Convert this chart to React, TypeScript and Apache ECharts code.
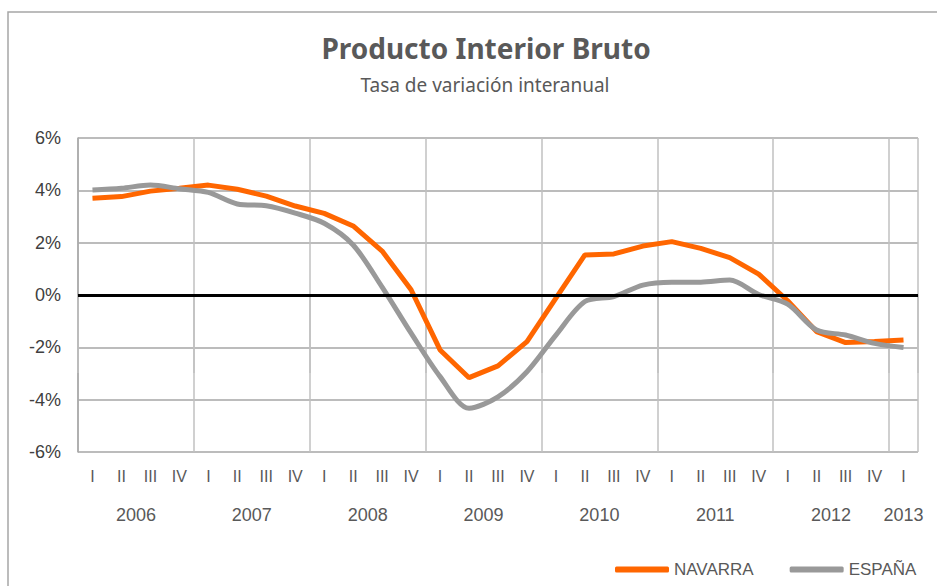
import React, { useEffect, useRef } from "react";
import * as echarts from "echarts";

const years = ["2006", "2007", "2008", "2009", "2010", "2011", "2012", "2013"];
const quartersPerYear = [4, 4, 4, 4, 4, 4, 4, 1];
const quarterNames = ["I", "II", "III", "IV"];

const navarra = [
  3.7, 3.76, 3.97, 4.08,
  4.2, 4.04, 3.78, 3.4,
  3.12, 2.64, 1.68, 0.2,
  -2.1, -3.16, -2.71, -1.78,
  -0.12, 1.53, 1.57, 1.87,
  2.04, 1.78, 1.43, 0.8,
  -0.22, -1.4, -1.82, -1.78,
  -1.72,
];

const espana = [
  4.01, 4.08, 4.2, 4.06,
  3.92, 3.48, 3.41, 3.13,
  2.74, 1.91, 0.3, -1.46,
  -3.12, -4.33, -3.89, -2.93,
  -1.53, -0.25, -0.06, 0.38,
  0.49, 0.49, 0.57, 0.02,
  -0.35, -1.34, -1.53, -1.85,
  -2.01,
];

const yTicks = { min: -6, max: 6, interval: 2 };

const categories: string[] = [];
quartersPerYear.forEach((n) => {
  for (let q = 0; q < n; q++) categories.push(quarterNames[q]);
});

// year label positions: centre of each year's group of quarters
const yearPos: { [k: string]: string } = {};
{
  let start = 0;
  years.forEach((y, i) => {
    const c = start + quartersPerYear[i] / 2;
    yearPos[c.toFixed(1)] = y;
    start += quartersPerYear[i];
  });
}
const totalQ = categories.length;
const isYearStart = (i: number) => {
  let s = 0;
  for (let k = 0; k < quartersPerYear.length; k++) {
    if (s === i) return true;
    s += quartersPerYear[k];
  }
  return i === totalQ;
};

export default function App() {
  const ref = useRef<HTMLDivElement>(null);
  useEffect(() => {
    if (!ref.current) return;
    const chart = echarts.init(ref.current, undefined, { renderer: "svg" });
    const font = "Liberation Sans";
    chart.setOption({
      animation: false,
      backgroundColor: "#ffffff",
      title: [
        {
          text: "Producto Interior Bruto",
          left: 481,
          top: 29,
          textAlign: "center",
          textStyle: {
            fontFamily: "Noto Sans",
            fontWeight: "bold",
            fontSize: 28,
            color: "#595959",
          },
        },
        {
          text: "Tasa de variación interanual",
          left: 480,
          top: 70,
          textAlign: "center",
          textStyle: {
            fontFamily: "Noto Sans",
            fontWeight: "normal",
            fontSize: 19,
            color: "#595959",
          },
        },
      ],
      graphic: [
        {
          type: "rect",
          shape: { x: 8, y: 12, width: 1100, height: 1100 },
          style: { fill: "none", stroke: "#a6a6a6", lineWidth: 1.5 },
          silent: true,
          z: -10,
        },
      ],
      legend: {
        data: ["NAVARRA", "ESPAÑA"],
        left: 610,
        top: 556,
        icon: "roundRect",
        itemWidth: 54,
        itemHeight: 6,
        itemGap: 36,
        textStyle: { fontFamily: font, fontSize: 17, color: "#595959" },
      },
      grid: { left: 78, right: 19, top: 138, bottom: 134 },
      xAxis: [
        {
          type: "category",
          data: categories,
          boundaryGap: true,
          axisLine: { show: true, lineStyle: { color: "#a6a6a6", width: 1 } },
          axisTick: {
            show: true,
            interval: (i: number) => isYearStart(i),
            length: 78,
            lineStyle: { color: "#c0c0c0", width: 1.5 },
          },
          splitLine: {
            show: true,
            interval: (i: number) => isYearStart(i),
            lineStyle: { color: "#c0c0c0", width: 1.5 },
          },
          axisLabel: {
            interval: 0,
            margin: 16,
            fontFamily: font,
            fontSize: 16,
            color: "#595959",
          },
        },
        {
          type: "value",
          position: "bottom",
          min: 0,
          max: totalQ,
          interval: 0.5,
          axisLine: { show: false },
          axisTick: { show: false },
          splitLine: { show: false },
          axisLabel: {
            margin: 54,
            fontFamily: font,
            fontSize: 18,
            color: "#595959",
            showMinLabel: true,
            showMaxLabel: true,
            formatter: (v: number) => yearPos[v.toFixed(1)] || "",
          },
        },
      ],
      yAxis: {
        type: "value",
        min: yTicks.min,
        max: yTicks.max,
        interval: yTicks.interval,
        axisLine: { show: true, lineStyle: { color: "#a6a6a6", width: 1.5 } },
        axisTick: { show: false },
        splitLine: { lineStyle: { color: "#a6a6a6", width: 1.5 } },
        axisLabel: {
          margin: 17,
          fontFamily: font,
          fontSize: 18,
          color: "#404040",
          formatter: (v: number) => v + "%",
        },
      },
      series: [
        {
          name: "NAVARRA",
          type: "line",
          data: navarra,
          symbol: "none",
          lineStyle: { color: "#ff6600", width: 5 },
          itemStyle: { color: "#ff6600" },
          markLine: {
            silent: true,
            symbol: "none",
            label: { show: false },
            lineStyle: { color: "#000000", width: 3, type: "solid" },
            data: [{ yAxis: 0 }],
          },
        },
        {
          name: "ESPAÑA",
          type: "line",
          data: espana,
          symbol: "none",
          smooth: 0.3,
          lineStyle: { color: "#999999", width: 5 },
          itemStyle: { color: "#999999" },
        },
      ],
    });
    return () => chart.dispose();
  }, []);
  return (
    <div
      ref={ref}
      style={{ position: "absolute", left: 0, top: 0, width: 937, height: 586 }}
    />
  );
}
